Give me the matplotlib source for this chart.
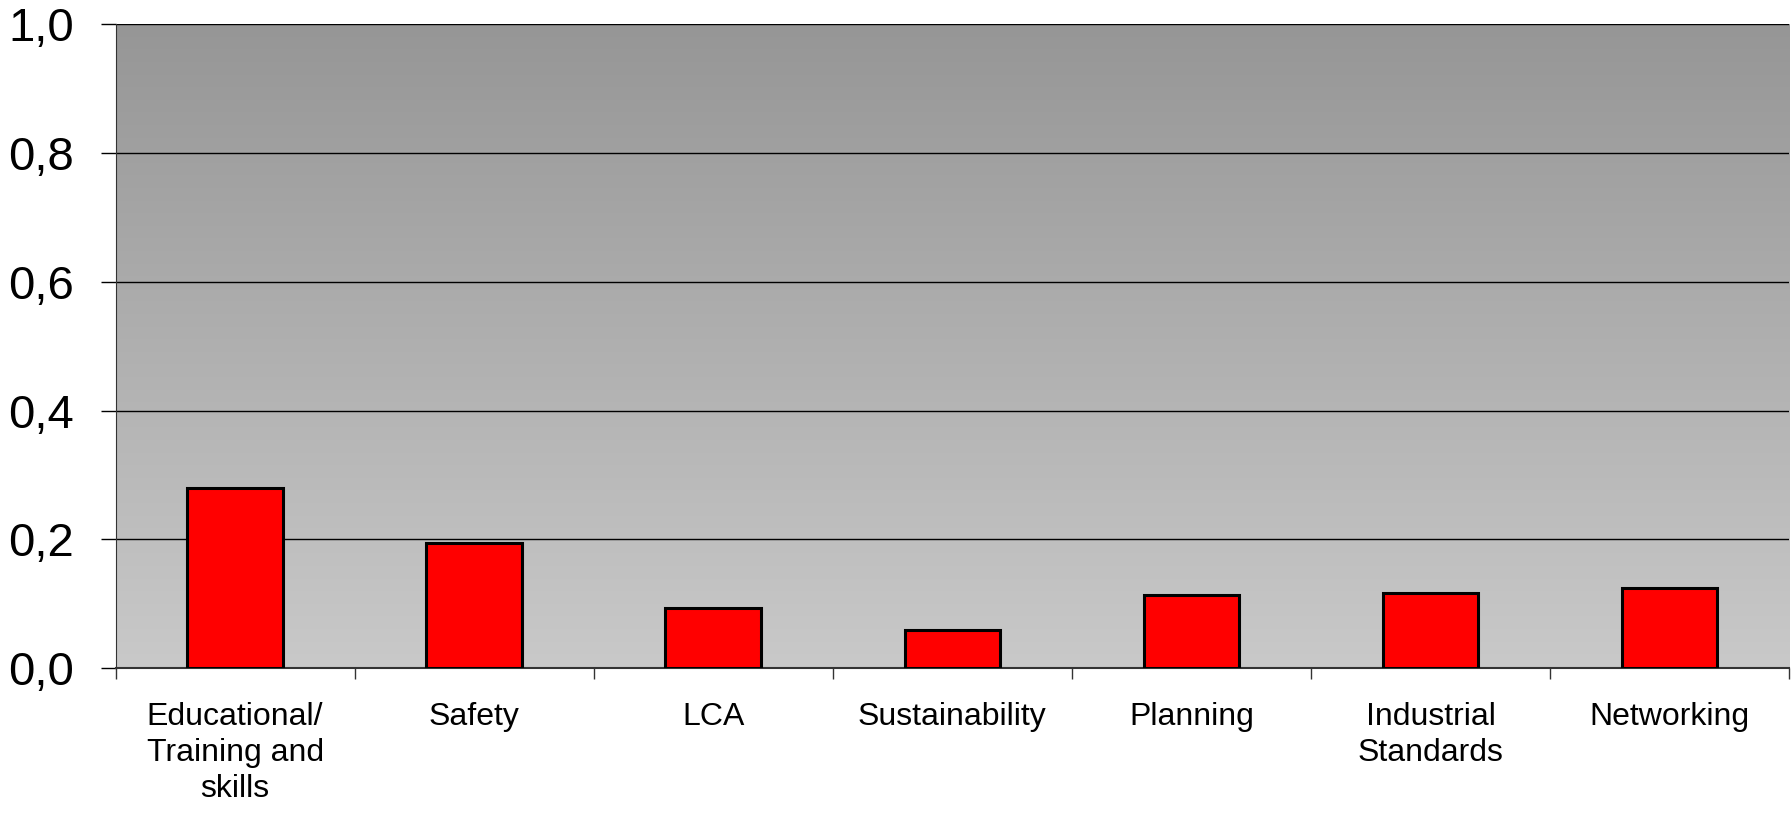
import numpy as np
import matplotlib.pyplot as plt

plt.rcParams['font.family'] = ['Liberation Sans', 'DejaVu Sans']

categories = ['Educational/\nTraining and\nskills', 'Safety', 'LCA', 'Sustainability',
              'Planning', 'Industrial\nStandards', 'Networking']
values = [0.280, 0.195, 0.094, 0.060, 0.113, 0.117, 0.124]
yticks = [0.0, 0.2, 0.4, 0.6, 0.8, 1.0]
ytick_labels = ['0,0', '0,2', '0,4', '0,6', '0,8', '1,0']

fig = plt.figure(figsize=(17.91, 8.13), dpi=100)
ax = fig.add_axes([0.0645, 0.178, 0.9345, 0.7925])

n = len(categories)
ax.set_xlim(-0.5, n - 0.5)
ax.set_ylim(0, 1.0)

# grey gradient background, dark at the top
grad = np.linspace(0, 1, 256).reshape(-1, 1)
ax.imshow(grad, extent=[-0.5, n - 0.5, 0, 1.0], aspect='auto', origin='upper',
          cmap=plt.matplotlib.colors.LinearSegmentedColormap.from_list(
              'g', ['#969696', '#c9c9c9']), zorder=0)

for y in yticks[1:]:
    ax.axhline(y, color='black', linewidth=1, zorder=1)

ax.bar(range(n), values, width=0.4, color='#ff0000', edgecolor='black',
       linewidth=2.2, zorder=3)

ax.set_yticks(yticks)
ax.set_yticklabels(ytick_labels, fontsize=34)
ax.tick_params(axis='y', length=11, width=1, pad=19, color='black')

ax.set_xticks(range(n))
ax.set_xticklabels(categories, fontsize=23, linespacing=1.28, va='top')
ax.tick_params(axis='x', which='major', length=0, pad=24)
ax.set_xticks(np.arange(-0.5, n, 1), minor=True)
ax.tick_params(axis='x', which='minor', length=8, width=1, color='#333333')

for s in ['top', 'right']:
    ax.spines[s].set_visible(False)
ax.spines['left'].set_color('#333333')
ax.spines['bottom'].set_color('#333333')
ax.spines['bottom'].set_linewidth(1.5)

fig.savefig('out.png', dpi=100)
